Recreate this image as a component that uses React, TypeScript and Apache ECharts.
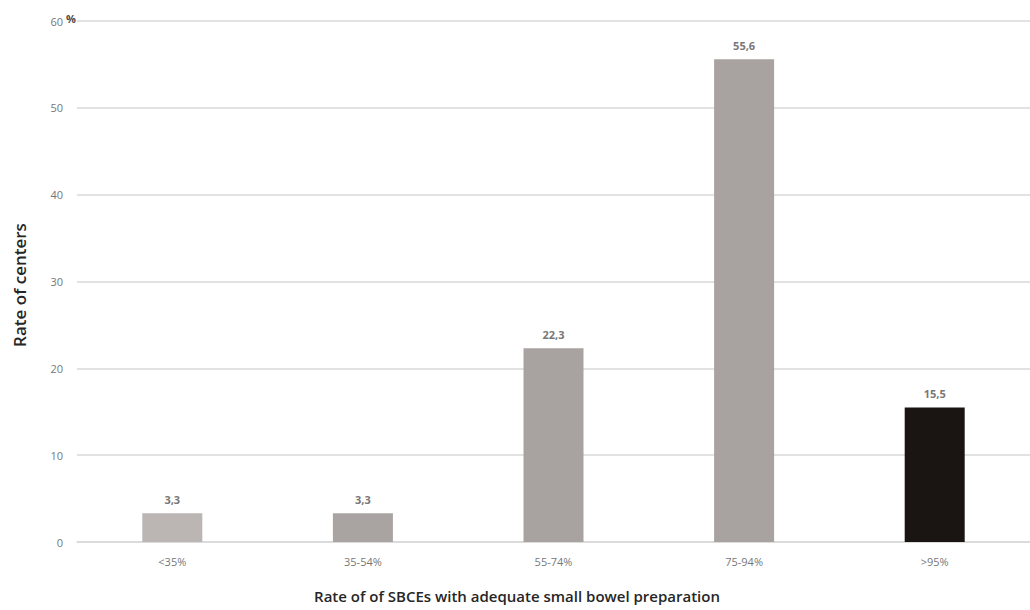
import React, { useEffect, useRef } from "react";
import * as echarts from "echarts";

const categories = ["<35%", "35-54%", "55-74%", "75-94%", ">95%"];
const values = [3.3, 3.3, 22.3, 55.6, 15.5];
const barColors = ["#bbb5b3", "#a9a3a1", "#a8a2a0", "#a8a2a0", "#1a1512"];
const yTicks = [0, 10, 20, 30, 40, 50, 60];
const xTitle = "Rate of of SBCEs with adequate small bowel preparation";
const yTitle = "Rate of centers";

export default function App() {
  const ref = useRef<HTMLDivElement>(null);
  useEffect(() => {
    if (!ref.current) return;
    const chart = echarts.init(ref.current, null, { renderer: "svg" });
    const font = "'Open Sans', 'Noto Sans', sans-serif";
    chart.setOption({
      animation: false,
      textStyle: { fontFamily: font },
      grid: { left: 77, top: 21, width: 962, height: 521, containLabel: false },
      xAxis: {
        type: "category",
        data: categories,
        axisTick: { show: false },
        axisLine: { lineStyle: { color: "#d9d9d9", width: 1.5 } },
        axisLabel: { color: "#777777", fontSize: 11, margin: 14, fontFamily: font },
      },
      yAxis: {
        type: "value",
        min: yTicks[0],
        max: yTicks[yTicks.length - 1],
        interval: 10,
        axisLine: { show: false },
        axisTick: { show: false },
        splitLine: { lineStyle: { color: "#d9d9d9", width: 1.5 } },
        axisLabel: { color: "#777777", fontSize: 11, margin: 14, fontFamily: font },
      },
      graphic: [
        {
          type: "text",
          left: 66,
          top: 13,
          style: { text: "%", fill: "#4a4a4a", font: `bold 11px ${font}` },
        },
        {
          type: "text",
          x: 517,
          y: 596,
          style: {
            text: xTitle,
            fill: "#262626",
            font: `600 15px ${font}`,
            textAlign: "center",
            textVerticalAlign: "middle",
          },
        },
        {
          type: "text",
          x: 19,
          y: 285,
          rotation: Math.PI / 2,
          style: {
            text: yTitle,
            fill: "#262626",
            font: `600 17px ${font}`,
            textAlign: "center",
            textVerticalAlign: "middle",
          },
        },
      ],
      series: [
        {
          type: "bar",
          barWidth: 60,
          data: values.map((v, i) => ({ value: v, itemStyle: { color: barColors[i] } })),
          label: {
            show: true,
            position: "top",
            distance: 8,
            color: "#777777",
            fontSize: 11,
            fontWeight: "bold",
            fontFamily: font,
            formatter: (p: any) => String(p.value).replace(".", ","),
          },
        },
      ],
    });
    return () => chart.dispose();
  }, []);
  return (
    <div
      ref={ref}
      style={{ position: "absolute", left: 0, top: 0, width: 1030, height: 610, background: "#fff" }}
    />
  );
}
